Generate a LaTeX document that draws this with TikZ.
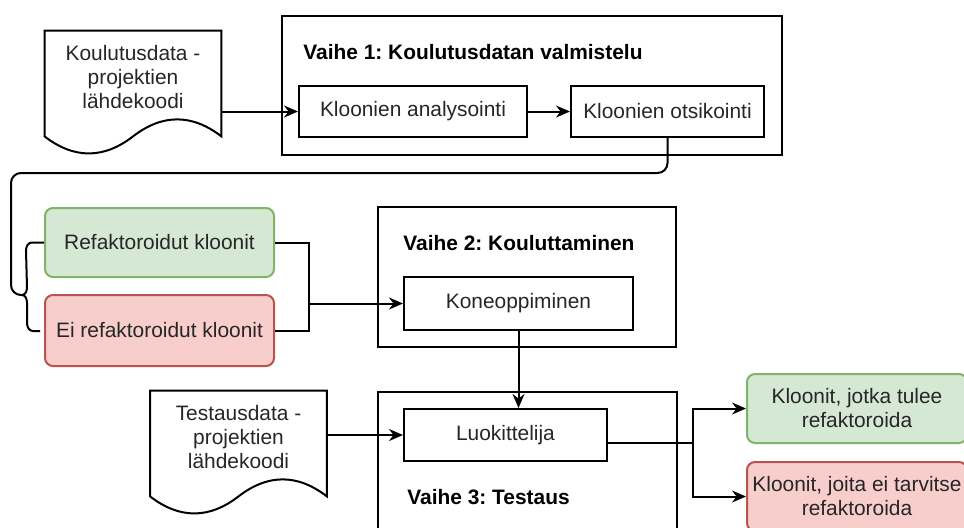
\documentclass[tikz,border=0pt]{standalone}
\usepackage{fontspec}
\setmainfont{Liberation Sans}
\usetikzlibrary{arrows.meta}
\frenchspacing
\definecolor{goodfill}{HTML}{D5E8D4}
\definecolor{goodline}{HTML}{82B366}
\definecolor{badfill}{HTML}{F8CECC}
\definecolor{badline}{HTML}{B85450}
\tikzset{
	txt/.style={font=\fontsize{10.45}{12}\selectfont, text=black!85},
	box/.style={txt, draw, line width=1pt, inner sep=2pt, align=center},
	phasebox/.style={draw, line width=1pt, minimum width=#1},
	phasetitle/.style={font=\fontsize{10.45}{12}\selectfont\bfseries, anchor=west, inner sep=0pt},
	docnode/.style={txt, align=center, minimum width=88pt, minimum height=46pt},
	good/.style={box, rounded corners=4pt, fill=goodfill, draw=goodline},
	bad/.style={box, rounded corners=4pt, fill=badfill, draw=badline},
	wire/.style={line width=1pt},
	flowarrow/.style={wire, -{Stealth[length=7pt,width=6pt]}},
}
% document shape with a wavy lower edge
\newcommand{\docoutline}[1]{%
	\draw[wire] (#1.north west) -- (#1.north east) -- ([yshift=-6.5pt]#1.south east)
		.. controls +(-14.67pt,11.35pt) and +(14.67pt,11.35pt) .. ([yshift=-6.5pt]#1.south)
		.. controls +(-14.67pt,-11.35pt) and +(14.67pt,-11.35pt) .. ([yshift=-6.5pt]#1.south west) -- cycle;}

\begin{document}
\begin{tikzpicture}[x=0.5pt, y=-0.5pt]
	\useasboundingbox (0,0) rectangle (964,527);

	% vaiheet
	\node[phasebox=250pt, minimum height=69.5pt] (vaihe1) at (532,85.5) {};
	\node[phasebox=149pt, minimum height=70pt] (vaihe2) at (527,277) {};
	\node[phasebox=149.5pt, minimum height=85pt] (vaihe3) at (527.5,477) {};
	\node[phasetitle] (otsikko1) at (303,52) {Vaihe 1: Koulutusdatan valmistelu};
	\node[phasetitle] (otsikko2) at (403,243) {Vaihe 2: Kouluttaminen};
	\node[phasetitle] (otsikko3) at (407,497) {Vaihe 3: Testaus};

	% data
	\node[docnode] (kdata) at (133,77) {Koulutusdata -\\projektien\\lähdekoodi};
	\docoutline{kdata}
	\node[docnode] (tdata) at (238.5,437) {Testausdata -\\projektien\\lähdekoodi};
	\docoutline{tdata}

	\node[box, minimum width=114pt, minimum height=25.5pt] (analyysi) at (413,111.5) {Kloonien analysointi};
	\node[box, minimum width=96.5pt, minimum height=25.5pt] (otsikointi) at (667.5,111.5) {Kloonien otsikointi};
	\node[good, minimum width=114.5pt, minimum height=34.5pt] (refk) at (159.5,242.5) {Refaktoroidut kloonit};
	\node[bad, minimum width=114.5pt, minimum height=35.5pt] (eirefk) at (159.5,330.5) {Ei refaktoroidut kloonit};
	\node[box, minimum width=114.5pt, minimum height=26.5pt] (koneop) at (518.5,303.5) {Koneoppiminen};
	\node[box, minimum width=101.5pt, minimum height=26pt] (luokittelija) at (505.5,435) {Luokittelija};
	\node[good, minimum width=110pt, minimum height=34.5pt] (refyes) at (857,408.5) {Kloonit, jotka tulee\\refaktoroida};
	\node[bad, minimum width=110pt, minimum height=34.5pt] (refno) at (857,496.5) {Kloonit, joita ei tarvitse\\refaktoroida};

	\coordinate (brace) at (22,295);
	\coordinate (merge) at (309,303.5);
	\coordinate (split) at (693,443);

	% yhteydet
	\draw[flowarrow] (kdata.east |- analyysi) -- (analyysi);
	\draw[flowarrow] (analyysi) -- (otsikointi);
	\draw[wire] (otsikointi.south) [rounded corners=5pt] -- ++(0,35) -| ([xshift=-5.5pt]brace) [sharp corners] -- (brace);
	\draw[wire] (refk.west) -- ++(-12,0) to[out=180,in=90] ++(-6,8) -- ([xshift=2.5pt,yshift=4pt]brace)
		to[out=-90,in=0] (brace) to[out=0,in=90] ++(5,8) -- ++(0,20) to[out=-90,in=180] ++(6,8) -- ++(7,0);
	\draw[wire] (refk.east) -| (merge);
	\draw[wire] (eirefk.east) -| (merge);
	\draw[flowarrow] (merge) -- (koneop.west);
	\draw[flowarrow] (koneop.south) -- (koneop.south |- luokittelija.north);
	\draw[flowarrow] (tdata.east |- luokittelija) -- (luokittelija);
	\draw[wire] ([yshift=-4pt]luokittelija.east) -- (split);
	\draw[flowarrow] (split) |- (refyes.west);
	\draw[flowarrow] (split) |- (refno.west);
\end{tikzpicture}
\end{document}
